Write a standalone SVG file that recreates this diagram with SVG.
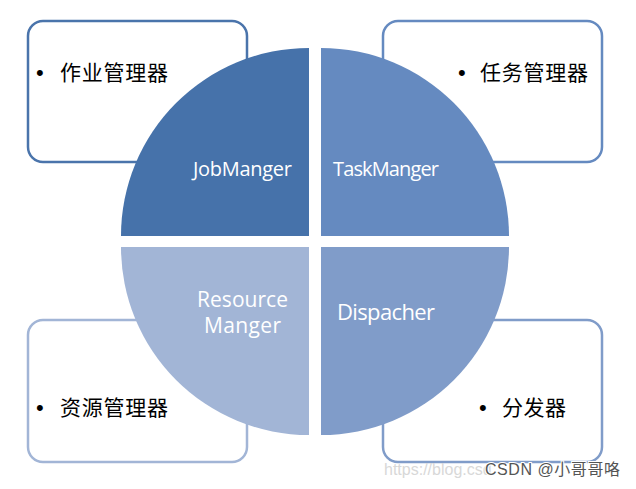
<svg xmlns="http://www.w3.org/2000/svg" width="636" height="489" viewBox="0 0 636 489">
<style>
.box{fill:#fff;stroke-width:2.5}
.cjk{font-family:"Noto Sans CJK SC","Noto Sans",sans-serif;font-size:21px;fill:#000}
.bul{font-family:"Liberation Sans",Arial,sans-serif;font-size:22px;fill:#000}
.lbl{font-family:"Open Sans","Noto Sans",sans-serif;fill:#fff}
</style>
<rect width="636" height="489" fill="#fff"/>
<g id="box-job"><rect class="box" x="28" y="21" width="219" height="141" rx="15" stroke="#4A74AB"/><text class="bul" x="36" y="80">•</text><text class="cjk" x="60" y="80" textLength="108">作业管理器</text></g>
<g id="box-task"><rect class="box" x="383" y="21" width="219" height="141" rx="15" stroke="#658AC0"/><text class="bul" x="458" y="80">•</text><text class="cjk" x="480" y="80" textLength="108">任务管理器</text></g>
<g id="box-res"><rect class="box" x="28" y="320" width="219" height="142" rx="15" stroke="#A2B5D6"/><text class="bul" x="36" y="415">•</text><text class="cjk" x="60" y="415" textLength="108">资源管理器</text></g>
<g id="box-disp"><rect class="box" x="383" y="320" width="219" height="142" rx="15" stroke="#809CC9"/><text class="bul" x="479" y="415">•</text><text class="cjk" x="502" y="415" textLength="64">分发器</text></g>
<g id="connectors"></g>
<g id="q-job"><path d="M309,236 L121,236 A188,188 0 0 1 309,48 Z" fill="#4672AA"/><text class="lbl" x="193" y="176" font-size="20" textLength="99">JobManger</text></g>
<g id="q-task"><path d="M321,236 L321,48 A188,188 0 0 1 509,236 Z" fill="#658AC0"/><text class="lbl" x="333" y="176" font-size="20" textLength="106">TaskManger</text></g>
<g id="q-res"><path d="M309,247 L309,435 A188,188 0 0 1 121,247 Z" fill="#A2B5D6"/><text class="lbl" x="197" y="307" font-size="21" textLength="91">Resource</text><text class="lbl" x="204" y="333" font-size="21" textLength="77">Manger</text></g>
<g id="q-disp"><path d="M321,247 L509,247 A188,188 0 0 1 321,435 Z" fill="#809CC9"/><text class="lbl" x="337" y="320" font-size="22" textLength="98">Dispacher</text></g>
<g id="watermark" font-family="Liberation Sans,Arial,sans-serif" font-size="16">
<text x="384" y="475" fill="#d8d8d8">https://blog.csd</text>
<text x="485" y="475" fill="#555" stroke="#fff" stroke-width="2" paint-order="stroke" font-family="Liberation Sans,Noto Sans CJK SC,sans-serif" textLength="135">CSDN @小哥哥咯</text>
</g>
</svg>
